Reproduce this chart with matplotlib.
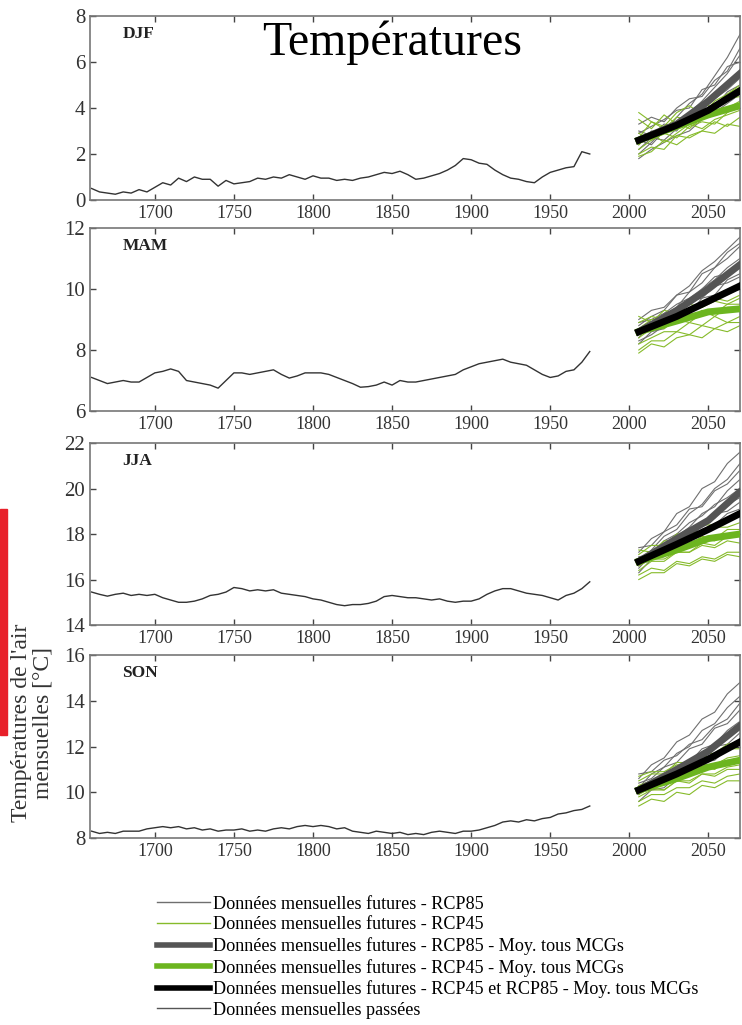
import numpy as np
import matplotlib
matplotlib.use("Agg")
import matplotlib.pyplot as plt
from matplotlib.lines import Line2D
from matplotlib.patches import Rectangle

plt.rcParams["font.family"] = ["Liberation Serif", "DejaVu Serif"]

# historical series, every 5 years 1660..1975
hist_years = list(range(1660, 1976, 5))
hist_djf = [0.5, 0.35, 0.3, 0.25, 0.35, 0.3, 0.45, 0.35,
            0.55, 0.75, 0.65, 0.95, 0.8, 1.0, 0.9, 0.9, 0.6, 0.85,
            0.7, 0.75, 0.8, 0.95, 0.9, 1.0, 0.95, 1.1, 1.0, 0.9,
            1.05, 0.95, 0.95, 0.85, 0.9, 0.85, 0.95, 1.0, 1.1, 1.2,
            1.15, 1.25, 1.1, 0.9, 0.95, 1.05, 1.15, 1.3, 1.5, 1.8,
            1.75, 1.6, 1.55, 1.3, 1.1, 0.95, 0.9, 0.8, 0.75, 1.0,
            1.2, 1.3, 1.4, 1.45, 2.1, 2.0]
hist_mam = [7.1, 7.0, 6.9, 6.95, 7.0, 6.95, 6.95, 7.1,
            7.25, 7.3, 7.38, 7.3, 7.0, 6.95, 6.9, 6.85, 6.75, 7.0,
            7.25, 7.25, 7.2, 7.25, 7.3, 7.35, 7.2, 7.08, 7.15, 7.25,
            7.25, 7.25, 7.2, 7.1, 7.0, 6.9, 6.78, 6.8, 6.85, 6.95,
            6.85, 7.0, 6.95, 6.95, 7.0, 7.05, 7.1, 7.15, 7.2, 7.35,
            7.45, 7.55, 7.6, 7.65, 7.7, 7.6, 7.55, 7.5, 7.35, 7.2,
            7.1, 7.15, 7.3, 7.35, 7.6, 7.95]
hist_jja = [15.45, 15.35, 15.27, 15.35, 15.4, 15.3, 15.35, 15.3,
            15.35, 15.2, 15.1, 15.0, 15.0, 15.05, 15.15, 15.3, 15.35, 15.45,
            15.65, 15.6, 15.5, 15.55, 15.5, 15.55, 15.4, 15.35, 15.3, 15.25,
            15.15, 15.1, 15.0, 14.9, 14.85, 14.9, 14.9, 14.95, 15.05, 15.25,
            15.3, 15.25, 15.2, 15.2, 15.15, 15.1, 15.15, 15.05, 15.0, 15.05,
            15.05, 15.15, 15.35, 15.5, 15.6, 15.6, 15.5, 15.4, 15.35, 15.3,
            15.2, 15.1, 15.3, 15.4, 15.6, 15.9]
hist_son = [8.3, 8.2, 8.25, 8.2, 8.3, 8.3, 8.3, 8.4,
            8.45, 8.5, 8.45, 8.5, 8.4, 8.45, 8.35, 8.4, 8.3, 8.35,
            8.35, 8.4, 8.3, 8.35, 8.3, 8.4, 8.45, 8.4, 8.5, 8.55,
            8.5, 8.55, 8.5, 8.4, 8.45, 8.3, 8.25, 8.2, 8.3, 8.25,
            8.2, 8.25, 8.15, 8.2, 8.15, 8.25, 8.3, 8.25, 8.2, 8.3,
            8.3, 8.35, 8.45, 8.55, 8.7, 8.75, 8.7, 8.8, 8.75, 8.85,
            8.9, 9.05, 9.1, 9.2, 9.25, 9.4]

# future runs
fut_years = [2006, 2014, 2022, 2030, 2038, 2046, 2054, 2062, 2070]

djf_rcp85 = [[2.4, 3.0, 2.9, 3.6, 4.2, 4.6, 5.4, 6.2, 7.2],
             [2.0, 2.5, 3.1, 3.0, 3.8, 4.3, 4.9, 5.5, 6.3],
             [2.9, 3.2, 3.5, 3.9, 4.0, 4.8, 5.0, 5.8, 6.0],
             [2.6, 2.4, 3.0, 3.4, 3.6, 4.0, 4.6, 5.1, 5.6],
             [3.0, 2.8, 3.3, 3.2, 3.7, 3.9, 4.4, 4.8, 5.3],
             [2.2, 2.7, 2.6, 3.1, 3.4, 3.8, 4.0, 4.7, 5.0],
             [3.3, 3.6, 3.4, 4.0, 4.4, 4.5, 5.2, 5.6, 6.6],
             [1.8, 2.2, 2.5, 2.8, 3.0, 3.5, 3.8, 4.2, 4.6]]
djf_rcp45 = [[2.7, 3.4, 3.1, 3.6, 3.5, 3.9, 4.1, 4.6, 4.9],
             [2.2, 2.6, 2.9, 2.7, 3.2, 3.4, 3.3, 3.8, 4.1],
             [3.5, 3.1, 3.7, 3.3, 3.8, 4.2, 4.0, 4.4, 4.5],
             [2.0, 2.3, 2.2, 2.8, 2.7, 3.0, 3.4, 3.2, 3.6],
             [2.9, 2.6, 3.0, 3.4, 3.1, 3.6, 3.9, 4.0, 4.3],
             [2.4, 2.9, 2.5, 2.9, 3.3, 3.1, 3.5, 3.7, 3.9],
             [3.8, 3.4, 3.2, 3.8, 4.1, 3.7, 4.3, 4.6, 5.0],
             [1.9, 2.1, 2.6, 2.4, 2.8, 3.0, 2.9, 3.3, 3.2]]

mam_rcp85 = [[8.8, 9.1, 9.3, 9.8, 10.1, 10.6, 10.9, 11.3, 11.7],
             [8.4, 8.9, 9.1, 9.4, 9.9, 10.2, 10.7, 11.0, 11.4],
             [8.6, 8.7, 9.2, 9.3, 9.6, 10.0, 10.3, 10.7, 11.0],
             [8.9, 9.0, 9.2, 9.5, 9.7, 10.0, 10.4, 10.5, 10.8],
             [8.2, 8.6, 8.7, 9.1, 9.2, 9.7, 9.8, 10.3, 10.5],
             [8.7, 8.8, 9.1, 9.2, 9.6, 9.7, 10.1, 10.2, 10.4],
             [9.0, 9.3, 9.4, 9.8, 9.9, 10.5, 10.7, 11.2, 11.5],
             [8.3, 8.5, 8.8, 9.0, 9.3, 9.4, 9.8, 9.9, 10.2]]
mam_rcp45 = [[8.7, 9.0, 9.0, 9.3, 9.3, 9.6, 9.6, 9.9, 10.0],
             [8.4, 8.7, 8.7, 9.0, 8.9, 9.2, 9.2, 9.5, 9.5],
             [9.1, 8.9, 9.3, 9.2, 9.5, 9.4, 9.7, 9.6, 9.8],
             [8.0, 8.3, 8.3, 8.6, 8.5, 8.8, 8.7, 8.9, 8.9],
             [8.6, 8.8, 8.7, 9.1, 9.0, 9.3, 9.1, 9.4, 9.4],
             [8.2, 8.4, 8.6, 8.6, 8.9, 8.8, 9.1, 8.9, 9.1],
             [8.9, 9.1, 9.0, 9.3, 9.3, 9.4, 9.6, 9.5, 9.7],
             [7.9, 8.2, 8.1, 8.4, 8.5, 8.4, 8.7, 8.6, 8.8]]

jja_rcp85 = [[17.2, 17.8, 18.1, 18.9, 19.2, 20.0, 20.3, 21.1, 21.6],
             [16.8, 17.3, 17.9, 18.2, 18.9, 19.3, 20.0, 20.4, 21.1],
             [16.5, 17.1, 17.3, 17.9, 18.3, 18.9, 19.2, 19.9, 20.4],
             [17.0, 17.1, 17.7, 18.0, 18.5, 18.8, 19.3, 19.6, 20.0],
             [16.3, 16.9, 17.0, 17.7, 17.8, 18.4, 18.7, 19.3, 19.6],
             [16.9, 16.9, 17.6, 17.6, 18.2, 18.4, 18.9, 19.0, 19.4],
             [16.6, 17.0, 17.1, 17.6, 17.7, 18.2, 18.4, 18.9, 19.1],
             [17.4, 17.5, 18.1, 18.4, 19.1, 19.2, 19.9, 20.2, 20.8]]
jja_rcp45 = [[17.1, 17.5, 17.5, 18.0, 18.0, 18.4, 18.4, 18.7, 18.8],
             [16.7, 17.1, 17.1, 17.5, 17.5, 17.9, 17.8, 18.2, 18.2],
             [16.4, 16.8, 16.8, 17.2, 17.2, 17.6, 17.5, 17.9, 17.9],
             [16.0, 16.3, 16.3, 16.7, 16.6, 16.9, 16.8, 17.1, 17.0],
             [16.9, 17.1, 17.2, 17.5, 17.4, 17.8, 17.7, 18.0, 18.0],
             [16.2, 16.5, 16.4, 16.8, 16.7, 17.0, 16.9, 17.2, 17.2],
             [17.3, 17.2, 17.7, 17.7, 18.1, 18.0, 18.3, 18.3, 18.5],
             [16.6, 16.9, 16.9, 17.2, 17.2, 17.5, 17.4, 17.7, 17.6]]

son_rcp85 = [[10.6, 11.2, 11.5, 12.2, 12.5, 13.2, 13.5, 14.3, 14.8],
             [10.2, 10.8, 11.1, 11.7, 12.0, 12.7, 13.0, 13.7, 14.2],
             [10.4, 10.6, 11.1, 11.3, 11.9, 12.1, 12.8, 13.0, 13.6],
             [9.9, 10.4, 10.6, 11.1, 11.3, 11.9, 12.1, 12.7, 13.1],
             [10.0, 10.1, 10.7, 10.8, 11.3, 11.4, 12.0, 12.1, 12.6],
             [9.6, 10.1, 10.2, 10.7, 10.8, 11.3, 11.4, 11.9, 12.1],
             [10.8, 10.9, 11.4, 11.6, 12.1, 12.3, 12.9, 13.2, 13.9],
             [10.1, 10.4, 10.4, 10.9, 10.9, 11.4, 11.5, 12.0, 12.3]]
son_rcp45 = [[10.5, 10.8, 10.8, 11.3, 11.3, 11.7, 11.7, 12.1, 12.2],
             [10.1, 10.4, 10.4, 10.8, 10.8, 11.2, 11.2, 11.5, 11.6],
             [9.8, 10.1, 10.1, 10.5, 10.5, 10.8, 10.8, 11.1, 11.2],
             [9.4, 9.7, 9.6, 10.0, 9.9, 10.3, 10.2, 10.5, 10.5],
             [10.3, 10.5, 10.5, 10.9, 10.8, 11.1, 11.0, 11.4, 11.4],
             [9.6, 9.9, 9.9, 10.2, 10.2, 10.5, 10.4, 10.7, 10.8],
             [10.7, 10.9, 10.9, 11.2, 11.2, 11.6, 11.5, 11.9, 11.9],
             [9.9, 10.2, 10.1, 10.5, 10.4, 10.8, 10.7, 11.0, 11.0]]

# ensemble means
mean_years = [2006, 2030, 2050, 2070]
djf_mean85 = [2.6, 3.3, 4.3, 5.5]
djf_mean45 = [2.6, 3.2, 3.7, 4.1]
djf_mean = [2.6, 3.25, 3.9, 4.75]
mam_mean85 = [8.6, 9.3, 10.0, 10.8]
mam_mean45 = [8.6, 8.95, 9.25, 9.35]
mam_mean = [8.6, 9.1, 9.6, 10.1]
jja_mean85 = [16.8, 17.8, 18.6, 19.85]
jja_mean45 = [16.8, 17.3, 17.8, 18.0]
jja_mean = [16.8, 17.55, 18.2, 18.9]
son_mean85 = [10.1, 11.0, 11.8, 12.9]
son_mean45 = [10.1, 10.6, 11.1, 11.4]
son_mean = [10.1, 10.8, 11.45, 12.2]

seasons = ["DJF", "MAM", "JJA", "SON"]
ylims = [(0, 8), (6, 12), (14, 22), (8, 16)]

C_GRAY = "#6f6f6f"
C_GREEN = "#86bb2a"
C_GRAY_MEAN = "#555555"
C_GREEN_MEAN = "#6cb51f"
C_HIST = "#333333"

panels = [
    (hist_djf, djf_rcp85, djf_rcp45, djf_mean85, djf_mean45, djf_mean),
    (hist_mam, mam_rcp85, mam_rcp45, mam_mean85, mam_mean45, mam_mean),
    (hist_jja, jja_rcp85, jja_rcp45, jja_mean85, jja_mean45, jja_mean),
    (hist_son, son_rcp85, son_rcp45, son_mean85, son_mean45, son_mean),
]

# axes boxes in figure fraction (left, bottom, width, height)
boxes = [(0.1213, 0.8049, 0.876, 0.1795),
         (0.1213, 0.5990, 0.876, 0.1786),
         (0.1213, 0.3902, 0.876, 0.1776),
         (0.1213, 0.1824, 0.876, 0.1786)]

fig = plt.figure(figsize=(7.42, 10.25), dpi=100)

for i, (hist, r85, r45, m85, m45, m) in enumerate(panels):
    ax = fig.add_axes(boxes[i])
    for run in r85:
        ax.plot(fut_years, run, color=C_GRAY, lw=0.8, zorder=2)
    for run in r45:
        ax.plot(fut_years, run, color=C_GREEN, lw=0.8, zorder=2)
    ax.plot(mean_years, m85, color=C_GRAY_MEAN, lw=5, zorder=3)
    ax.plot(mean_years, m45, color=C_GREEN_MEAN, lw=5, zorder=3)
    ax.plot(mean_years, m, color="black", lw=5, zorder=4)
    ax.plot(hist_years, hist, color=C_HIST, lw=1.0, zorder=2)

    ax.set_xlim(1659, 2070)
    ax.set_ylim(*ylims[i])
    ax.set_xticks(range(1700, 2051, 50))
    lo, hi = ylims[i]
    ax.set_yticks(np.arange(lo, hi + 0.1, 2))
    ax.tick_params(direction="in", top=True, right=True,
                   colors="#444444", length=4, width=1)
    ax.tick_params(axis="x", labelsize=13, labelcolor="#333333")
    ax.tick_params(axis="y", labelsize=15, labelcolor="#333333")
    for s in ax.spines.values():
        s.set_color("#777777")
        s.set_linewidth(1.2)
    ax.text(0.05, 0.88, seasons[i], transform=ax.transAxes, fontsize=12.5,
            fontweight="bold", color="#222222")

fig.text(0.528, 0.958, "Températures", fontsize=34.5, ha="center", va="center")
fig.text(0.043, 0.295, "Températures de l'air\nmensuelles [°C]", rotation=90,
         fontsize=17, ha="center", va="center", color="#333333",
         linespacing=1.05)
fig.patches.append(Rectangle((0, 0.283), 0.0095, 0.22, transform=fig.transFigure,
                             color="#e8202a", zorder=0))

handles = [Line2D([], [], color=C_GRAY, lw=1),
           Line2D([], [], color=C_GREEN, lw=1),
           Line2D([], [], color=C_GRAY_MEAN, lw=4),
           Line2D([], [], color=C_GREEN_MEAN, lw=4),
           Line2D([], [], color="black", lw=4),
           Line2D([], [], color="#555555", lw=1)]
labels = ["Données mensuelles futures - RCP85",
          "Données mensuelles futures - RCP45",
          "Données mensuelles futures - RCP85 - Moy. tous MCGs",
          "Données mensuelles futures - RCP45 - Moy. tous MCGs",
          "Données mensuelles futures - RCP45 et RCP85 - Moy. tous MCGs",
          "Données mensuelles passées"]
fig.legend(handles, labels, loc="upper left", bbox_to_anchor=(0.211, 0.126),
           frameon=False, fontsize=13.1, handlelength=2.95, handletextpad=0.15,
           labelspacing=0.2, borderpad=0, borderaxespad=0)

fig.savefig("out.png", dpi=100)
